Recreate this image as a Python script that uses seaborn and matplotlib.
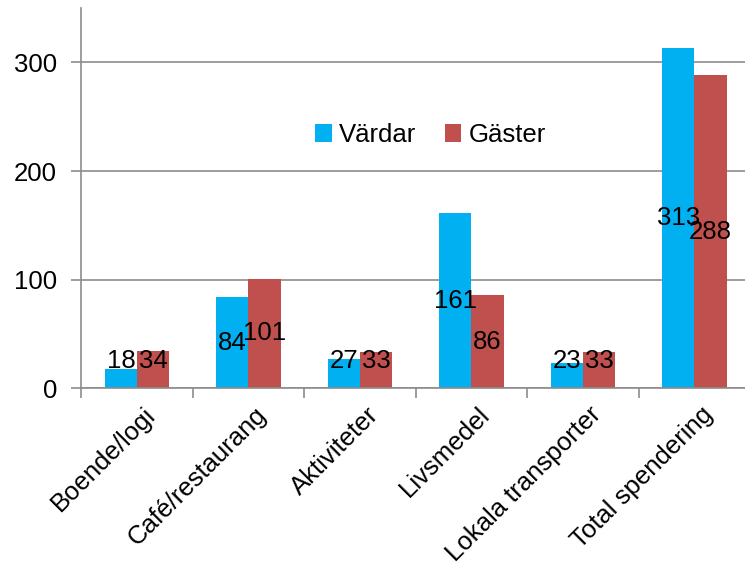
import matplotlib
matplotlib.use("Agg")
import matplotlib.pyplot as plt
import seaborn as sns
import pandas as pd

categories = ["Boende/logi", "Café/restaurang", "Aktiviteter", "Livsmedel",
              "Lokala transporter", "Total spendering"]
vardar = [18, 84, 27, 161, 23, 313]
gaster = [34, 101, 33, 86, 33, 288]
series = ["Värdar", "Gäster"]
colors = ["#00B0F0", "#C0504D"]

df = pd.DataFrame({
    "kategori": categories * 2,
    "varde": vardar + gaster,
    "grupp": [series[0]] * len(categories) + [series[1]] * len(categories),
})

sns.set_style("white")
plt.rcParams["font.family"] = ["Liberation Sans", "DejaVu Sans"]
plt.rcParams["text.color"] = "black"
fs = 18.5

fig = plt.figure(figsize=(7.45, 5.77), dpi=100)
ax = fig.add_axes([0.109, 0.327, 0.898, 0.659])

sns.barplot(data=df, x="kategori", y="varde", hue="grupp", palette=colors,
            width=0.575, gap=0, saturation=1, edgecolor="none", linewidth=0,
            errorbar=None, ax=ax, zorder=3)

ax.set_xlim(-0.5, 5.5)
ax.set_ylim(0, 350)
ax.set_yticks([0, 100, 200, 300])
ax.set_xticks([i - 0.5 for i in range(7)], minor=True)
ax.set_xlabel("")
ax.set_ylabel("")

grid_col = "#8c8c8c"
ax.yaxis.grid(True, color=grid_col, linewidth=1.2, zorder=0)
ax.xaxis.grid(False)
for side in ["top", "right"]:
    ax.spines[side].set_visible(False)
for side in ["left", "bottom"]:
    ax.spines[side].set_color(grid_col)
    ax.spines[side].set_linewidth(1.2)
    ax.spines[side].set_zorder(4)

ax.tick_params(axis="y", which="major", direction="out", length=7, width=1.2,
               color=grid_col, labelsize=fs, labelcolor="black", pad=10.5, left=True)
ax.tick_params(axis="x", which="major", length=0, labelsize=fs, labelcolor="black", pad=10)
ax.tick_params(axis="x", which="minor", direction="out", length=7, width=1.2,
               color=grid_col, bottom=True)
ax.set_xticks(range(len(categories)))
ax.set_xticklabels(categories, rotation=45, ha="right", rotation_mode="anchor")
for lab in ax.get_xticklabels():
    lab.set_transform(lab.get_transform() + matplotlib.transforms.ScaledTranslation(0.06, 0, fig.dpi_scale_trans))

# value labels, centred in the bars (kept above the axis for short bars)
for cont in ax.containers:
    for bar in cont:
        h = bar.get_height()
        ax.text(bar.get_x() + bar.get_width() / 2, max(h / 2, 25), f"{h:.0f}",
                ha="center", va="center", fontsize=fs, color="black", zorder=5)

leg = ax.legend(loc="center", bbox_to_anchor=(0.578, 0.766), bbox_transform=fig.transFigure,
                ncol=2, frameon=False, fontsize=fs, handlelength=0.65, handleheight=0.65,
                handletextpad=0.3, columnspacing=1.1)
for t in leg.get_texts():
    t.set_color("black")

fig.savefig("out.png", dpi=100)
